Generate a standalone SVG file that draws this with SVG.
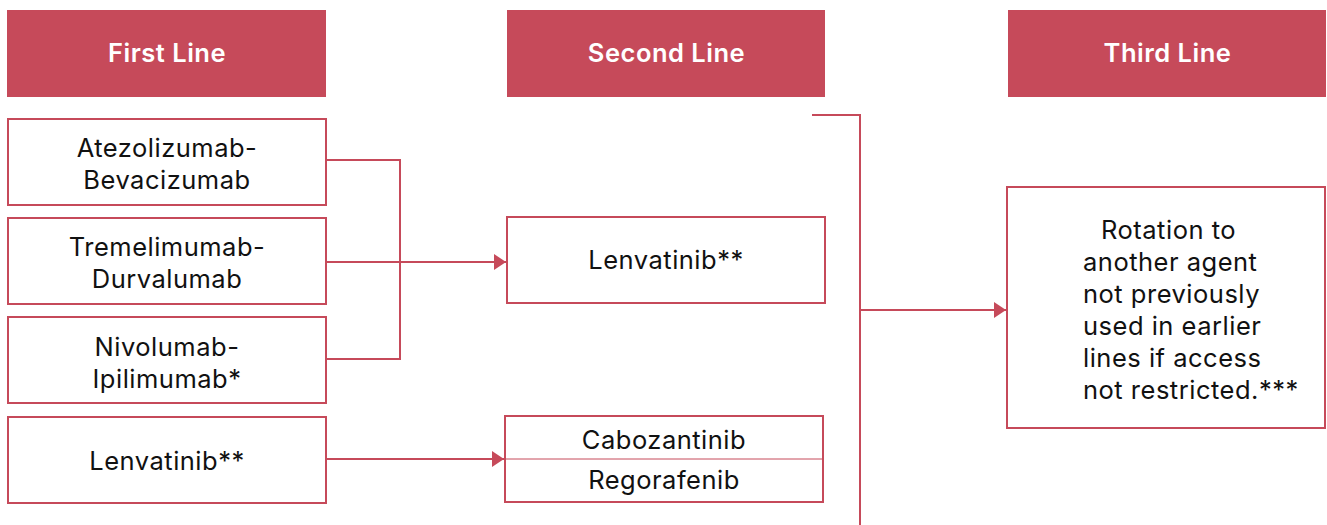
<svg xmlns="http://www.w3.org/2000/svg" width="1327" height="525" viewBox="0 0 1327 525">
<style>
.hdr{fill:#C64A5A}
.box{fill:#fff;stroke:#C64A5A;stroke-width:2}
.ht{font-family:Inter,"Liberation Sans",sans-serif;font-size:25.5px;font-weight:600;letter-spacing:0.5px;fill:#fff;text-anchor:middle}
.t{font-family:Inter,"Liberation Sans",sans-serif;font-size:25.5px;letter-spacing:0.5px;fill:#111;text-anchor:middle}
.tl{font-family:Inter,"Liberation Sans",sans-serif;font-size:25.5px;letter-spacing:0.5px;fill:#111}
.c{fill:none;stroke:#C64A5A;stroke-width:2}
</style>
<defs>
<marker id="ah" markerWidth="12" markerHeight="16" refX="12" refY="8" orient="auto" markerUnits="userSpaceOnUse">
<path d="M0,0 L12,8 L0,16 Z" fill="#C64A5A"/>
</marker>
</defs>
<rect width="1327" height="525" fill="#fff"/>
<g id="h1"><rect class="hdr" x="7" y="10" width="319" height="87"/><text class="ht" x="167" y="62">First Line</text></g>
<g id="h2"><rect class="hdr" x="507" y="10" width="318" height="87"/><text class="ht" x="666.5" y="62">Second Line</text></g>
<g id="h3"><rect class="hdr" x="1008" y="10" width="318" height="87"/><text class="ht" x="1167.5" y="62">Third Line</text></g>
<g id="atezo"><rect class="box" x="8" y="119" width="318" height="86"/><text class="t" x="167" y="157">Atezolizumab-</text><text class="t" x="167" y="189">Bevacizumab</text></g>
<g id="treme"><rect class="box" x="8" y="218" width="318" height="86"/><text class="t" x="167" y="256">Tremelimumab-</text><text class="t" x="167" y="288">Durvalumab</text></g>
<g id="nivo"><rect class="box" x="8" y="317" width="318" height="86"/><text class="t" x="167" y="356">Nivolumab-</text><text class="t" x="167" y="388">Ipilimumab*</text></g>
<g id="lenva1"><rect class="box" x="8" y="417" width="318" height="86"/><text class="t" x="167" y="470">Lenvatinib**</text></g>
<g id="lenva2"><rect class="box" x="507" y="217" width="318" height="86"/><text class="t" x="666" y="269">Lenvatinib**</text></g>
<g id="cabo"><rect class="box" x="505" y="416" width="318" height="86"/><line x1="505" y1="459" x2="823" y2="459" stroke="#C64A5A" stroke-width="1"/><text class="t" x="664" y="449">Cabozantinib</text><text class="t" x="664" y="489">Regorafenib</text></g>
<g id="third"><rect class="box" x="1007" y="187" width="318" height="241"/>
<text class="tl" x="1101" y="239">Rotation to</text>
<text class="tl" x="1083" y="271">another agent</text>
<text class="tl" x="1083" y="303">not previously</text>
<text class="tl" x="1083" y="335">used in earlier</text>
<text class="tl" x="1083" y="367">lines if access</text>
<text class="tl" x="1083" y="399">not restricted.***</text>
</g>
<g id="connectors">
<path class="c" d="M326,160 H400 V359 H326"/>
<path class="c" d="M326,262 H506" marker-end="url(#ah)"/>
<path class="c" d="M326,459 H504" marker-end="url(#ah)"/>
<path class="c" d="M812,115 H860 V525"/>
<path class="c" d="M860,310 H1006" marker-end="url(#ah)"/>
</g>
</svg>
